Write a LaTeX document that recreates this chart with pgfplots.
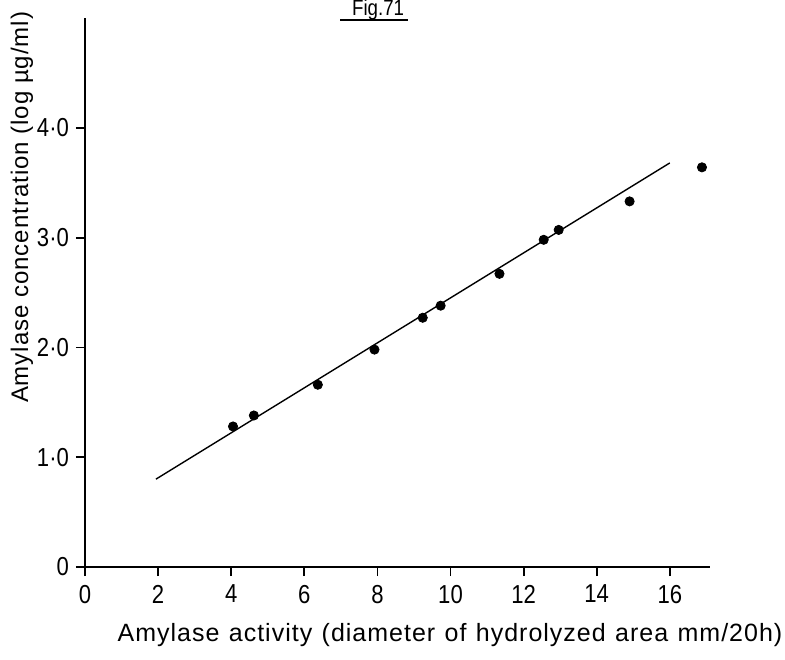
\documentclass[border=0pt]{standalone}
\usepackage{fontspec}
\setmainfont[FakeStretch=0.85]{Liberation Sans}
\newfontfamily\lblfont[LetterSpace=4]{Liberation Sans}
\usepackage{pgfplots}
\pgfplotsset{compat=1.18}
\newcommand{\gap}{\hspace{4.7pt}}
\begin{document}
\begin{tikzpicture}
\path[use as bounding box] (-42.5pt,-46pt) rectangle (350pt,283.5pt);
\begin{axis}[
  at={(0,0)}, anchor=south west,
  scale only axis, width=312.5pt, height=274.5pt,
  xmin=0, xmax=17.1, ymin=0, ymax=5.0,
  axis lines=left,
  axis line style={line width=1.2pt, -},
  every tick/.style={black, line width=0.9pt},
  tick align=outside, major tick length=4.5pt,
  xtick={0,2,4,6,8,10,12,14,16},
  xticklabels={0,2,4,6,8,10,12,14,16},
  ytick={0,1,2,3,4},
  yticklabels={0,1·0,2·0,3·0,4·0},
  tick label style={font=\fontsize{13}{15}\selectfont},
  xticklabel style={yshift=-1pt},
  xlabel={Amylase\gap activity\gap(diameter\gap of\gap hydrolyzed\gap area\gap mm/20h)},
  xlabel style={at={(axis description cs:0.584,-0.124)}, anchor=center, font=\lblfont\fontsize{12.5}{15}\selectfont},
  ylabel={Amylase concentration (log µg/ml)},
  ylabel style={at={(axis description cs:-0.1008,0.655)}, anchor=center, font=\lblfont\fontsize{12}{14}\selectfont},
  clip=false,
]
\addplot[black, line width=0.7pt] coordinates {(1.94,0.80) (16.0,3.68)};
\addplot[only marks, mark=*, mark size=2.3pt, black] coordinates {
(4.05,1.28) (4.62,1.38) (6.37,1.66) (7.92,1.98) (9.24,2.27) (9.73,2.38)
(11.34,2.67) (12.55,2.98) (12.96,3.07) (14.9,3.33) (16.88,3.64)};
\node[anchor=base, font=\fontsize{11}{12}\selectfont] at (axis description cs:0.469,1.004) {Fig.71};
\draw[line width=0.8pt] (axis description cs:0.408,0.996) -- (axis description cs:0.517,0.996);
\end{axis}
\end{tikzpicture}
\end{document}
